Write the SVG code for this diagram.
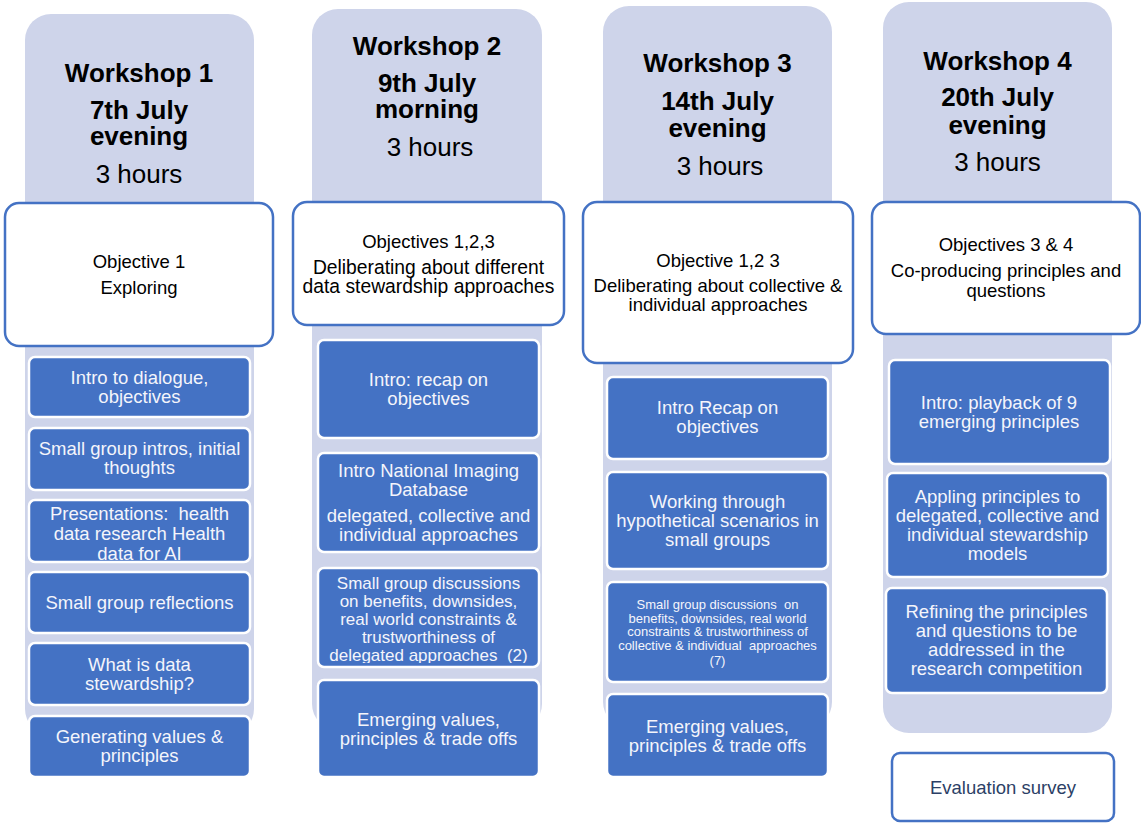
<svg xmlns="http://www.w3.org/2000/svg" width="1141" height="823" viewBox="0 0 1141 823">
  <style>
    .col { fill: #CED4EA; }
    .obj { fill: #FFFFFF; stroke: #4472C4; stroke-width: 2.5; }
    .step { fill: #4472C4; stroke: #FFFFFF; stroke-width: 2.5; }
    text { font-family: "Liberation Sans", Arial, sans-serif; text-anchor: middle; white-space: pre; }
    .h { font-size: 26px; font-weight: bold; fill: #000000; }
    .hr { font-size: 26px; fill: #000000; }
    .o { font-size: 18.5px; fill: #000000; }
    .o19 { font-size: 19.3px; fill: #000000; }
    .s { font-size: 18.5px; fill: #F4F5FB; }
    .s17 { font-size: 17px; fill: #F4F5FB; }
    .s13 { font-size: 13px; fill: #F4F5FB; }
    .ev { font-size: 18.5px; fill: #2C3F66; }
  </style>
  <defs>
    <clipPath id="clipW1s3"><rect x="29" y="500" width="221" height="61" rx="6"/></clipPath>
    <clipPath id="clipW2s3"><rect x="318" y="568" width="221" height="95" rx="6"/></clipPath>
  </defs>

  <!-- Workshop 1 -->
  <g id="workshop1">
    <rect class="col" x="25" y="14" width="229" height="721" rx="26"/>
    <text class="h" x="139" y="82">Workshop 1</text>
    <text class="h" x="139" y="119">7th July</text>
    <text class="h" x="139" y="145">evening</text>
    <text class="hr" x="139" y="183">3 hours</text>
    <g id="w1-objective">
      <rect class="obj" x="5" y="203" width="268" height="143" rx="14"/>
      <text class="o" x="139" y="268">Objective 1</text>
      <text class="o" x="139" y="294">Exploring</text>
    </g>
    <g id="w1-step1">
      <rect class="step" x="29" y="357" width="221" height="60" rx="6"/>
      <text class="s" x="139.5" y="384">Intro to dialogue,</text>
      <text class="s" x="139.5" y="403">objectives</text>
    </g>
    <g id="w1-step2">
      <rect class="step" x="29" y="428" width="221" height="62" rx="6"/>
      <text class="s" x="139.5" y="455">Small group intros, initial</text>
      <text class="s" x="139.5" y="474">thoughts</text>
    </g>
    <g id="w1-step3">
      <rect class="step" x="29" y="500" width="221" height="62" rx="6"/>
      <g clip-path="url(#clipW1s3)">
        <text class="s" x="139.5" y="520">Presentations:  health</text>
        <text class="s" x="139.5" y="540">data research Health</text>
        <text class="s" x="139.5" y="560">data for AI</text>
      </g>
    </g>
    <g id="w1-step4">
      <rect class="step" x="29" y="572" width="221" height="61" rx="6"/>
      <text class="s" x="139.5" y="609">Small group reflections</text>
    </g>
    <g id="w1-step5">
      <rect class="step" x="29" y="643" width="221" height="62" rx="6"/>
      <text class="s" x="139.5" y="671">What is data</text>
      <text class="s" x="139.5" y="690">stewardship?</text>
    </g>
    <g id="w1-step6">
      <rect class="step" x="29" y="716" width="221" height="61" rx="6"/>
      <text class="s" x="139.5" y="743">Generating values &amp;</text>
      <text class="s" x="139.5" y="762">principles</text>
    </g>
  </g>

  <!-- Workshop 2 -->
  <g id="workshop2">
    <rect class="col" x="312" y="9" width="230" height="721" rx="26"/>
    <text class="h" x="427" y="55">Workshop 2</text>
    <text class="h" x="427" y="92">9th July</text>
    <text class="h" x="427" y="118">morning</text>
    <text class="hr" x="430" y="156">3 hours</text>
    <g id="w2-objective">
      <rect class="obj" x="293" y="202" width="271" height="123" rx="14"/>
      <text class="o" x="428.5" y="248">Objectives 1,2,3</text>
      <text class="o19" x="428.5" y="274">Deliberating about different</text>
      <text class="o19" x="428.5" y="293">data stewardship approaches</text>
    </g>
    <g id="w2-step1">
      <rect class="step" x="318" y="340" width="221" height="98" rx="6"/>
      <text class="s" x="428.5" y="386">Intro: recap on</text>
      <text class="s" x="428.5" y="405">objectives</text>
    </g>
    <g id="w2-step2">
      <rect class="step" x="318" y="453" width="221" height="99" rx="6"/>
      <text class="s" x="428.5" y="477">Intro National Imaging</text>
      <text class="s" x="428.5" y="496">Database</text>
      <text class="s" x="428.5" y="522">delegated, collective and</text>
      <text class="s" x="428.5" y="541">individual approaches</text>
    </g>
    <g id="w2-step3">
      <rect class="step" x="318" y="568" width="221" height="99" rx="6"/>
      <g clip-path="url(#clipW2s3)">
        <text class="s17" x="428.5" y="589">Small group discussions</text>
        <text class="s17" x="428.5" y="607">on benefits, downsides,</text>
        <text class="s17" x="428.5" y="625">real world constraints &amp;</text>
        <text class="s17" x="428.5" y="643">trustworthiness of</text>
        <text class="s17" x="428.5" y="661">delegated approaches  (2)</text>
      </g>
    </g>
    <g id="w2-step4">
      <rect class="step" x="318" y="680" width="221" height="97" rx="6"/>
      <text class="s" x="428.5" y="726">Emerging values,</text>
      <text class="s" x="428.5" y="745">principles &amp; trade offs</text>
    </g>
  </g>

  <!-- Workshop 3 -->
  <g id="workshop3">
    <rect class="col" x="603" y="6" width="229" height="722" rx="26"/>
    <text class="h" x="717.5" y="72">Workshop 3</text>
    <text class="h" x="717.5" y="110">14th July</text>
    <text class="h" x="717.5" y="137">evening</text>
    <text class="hr" x="720" y="175">3 hours</text>
    <g id="w3-objective">
      <rect class="obj" x="583" y="202" width="270" height="161" rx="14"/>
      <text class="o" x="718" y="267">Objective 1,2 3</text>
      <text class="o" x="718" y="292">Deliberating about collective &amp;</text>
      <text class="o" x="718" y="311">individual approaches</text>
    </g>
    <g id="w3-step1">
      <rect class="step" x="607" y="377" width="221" height="82" rx="6"/>
      <text class="s" x="717.5" y="414">Intro Recap on</text>
      <text class="s" x="717.5" y="433">objectives</text>
    </g>
    <g id="w3-step2">
      <rect class="step" x="607" y="472" width="221" height="97" rx="6"/>
      <text class="s" x="717.5" y="508">Working through</text>
      <text class="s" x="717.5" y="527">hypothetical scenarios in</text>
      <text class="s" x="717.5" y="546">small groups</text>
    </g>
    <g id="w3-step3">
      <rect class="step" x="607" y="582" width="221" height="100" rx="6"/>
      <text class="s13" x="717.5" y="609">Small group discussions  on</text>
      <text class="s13" x="717.5" y="623">benefits, downsides, real world</text>
      <text class="s13" x="717.5" y="636">constraints &amp; trustworthiness of</text>
      <text class="s13" x="717.5" y="650">collective &amp; individual  approaches</text>
      <text class="s13" x="717.5" y="665">(7)</text>
    </g>
    <g id="w3-step4">
      <rect class="step" x="607" y="694" width="221" height="83" rx="6"/>
      <text class="s" x="717.5" y="733">Emerging values,</text>
      <text class="s" x="717.5" y="752">principles &amp; trade offs</text>
    </g>
  </g>

  <!-- Workshop 4 -->
  <g id="workshop4">
    <rect class="col" x="883" y="2" width="229" height="731" rx="26"/>
    <text class="h" x="997.5" y="70">Workshop 4</text>
    <text class="h" x="997.5" y="106">20th July</text>
    <text class="h" x="997.5" y="134">evening</text>
    <text class="hr" x="997.5" y="171">3 hours</text>
    <g id="w4-objective">
      <rect class="obj" x="872" y="202" width="268" height="132" rx="14"/>
      <text class="o" x="1006" y="251">Objectives 3 &amp; 4</text>
      <text class="o" x="1006" y="277">Co-producing principles and</text>
      <text class="o" x="1006" y="297">questions</text>
    </g>
    <g id="w4-step1">
      <rect class="step" x="889" y="360" width="221" height="104" rx="6"/>
      <text class="s" x="999" y="409">Intro: playback of 9</text>
      <text class="s" x="999" y="428">emerging principles</text>
    </g>
    <g id="w4-step2">
      <rect class="step" x="887" y="473" width="221" height="104" rx="6"/>
      <text class="s" x="997.5" y="503">Appling principles to</text>
      <text class="s" x="997.5" y="522">delegated, collective and</text>
      <text class="s" x="997.5" y="541">individual stewardship</text>
      <text class="s" x="997.5" y="560">models</text>
    </g>
    <g id="w4-step3">
      <rect class="step" x="886" y="588" width="221" height="105" rx="6"/>
      <text class="s" x="996.5" y="618">Refining the principles</text>
      <text class="s" x="996.5" y="637">and questions to be</text>
      <text class="s" x="996.5" y="656">addressed in the</text>
      <text class="s" x="996.5" y="675">research competition</text>
    </g>
  </g>

  <!-- Closing survey -->
  <g id="evaluation">
    <rect class="obj" x="892" y="753" width="222" height="68" rx="8"/>
    <text class="ev" x="1003" y="794">Evaluation survey</text>
  </g>

  <!-- no connectors are drawn between nodes -->
  <g id="connectors"/>
</svg>
